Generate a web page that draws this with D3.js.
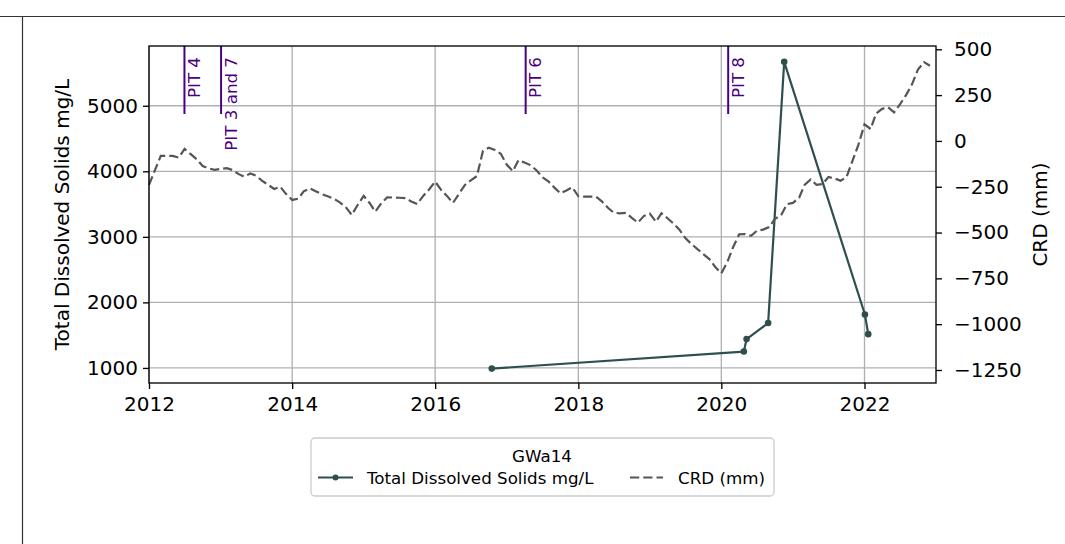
<!DOCTYPE html>
<html>
<head>
<meta charset="utf-8">
<script src="https://cdn.jsdelivr.net/npm/d3@7"></script>
<style>
  html, body { margin: 0; padding: 0; background: #fff; }
  svg { display: block; font-family: "DejaVu Sans", sans-serif; }
</style>
</head>
<body>
<svg id="chart" width="1065" height="544"></svg>
<script>
// ---- data ----
const tdsDates = ["2016-10-16", "2020-04-25", "2020-05-09", "2020-08-27", "2020-11-17", "2022-01-03", "2022-01-20"];
const tdsValues = [990, 1250, 1440, 1685, 5670, 1815, 1515];

const crdStart = "2012-01-01"; // monthly series
const crdValues = [
  -240, -158, -82, -82, -82, -91, -44, -72, -100, -137, -150, -158,
  -152, -149, -158, -180, -195, -178, -190, -218, -240, -262, -250, -290,
  -322, -315, -275, -259, -275, -290, -302, -315, -335, -360, -404, -350,
  -300, -340, -386, -340, -308, -309, -310, -312, -330, -344, -300, -265,
  -222, -268, -300, -338, -290, -240, -215, -192, -55, -37, -50, -70,
  -130, -165, -106, -118, -132, -160, -198, -220, -255, -286, -270, -253,
  -302, -304, -304, -304, -330, -365, -392, -395, -393, -420, -446, -410,
  -396, -441, -395, -422, -450, -484, -530, -562, -590, -618, -645, -688,
  -722, -660, -580, -510, -508, -518, -490, -484, -470, -425, -406, -345,
  -338, -310, -240, -210, -240, -235, -197, -205, -217, -198, -108, -20,
  90, 65, 150, 175, 184, 156, 200, 250, 310, 390, 430, 410
];

const pitDates = ["2012-06-30", "2013-01-03", "2017-04-07", "2020-02-05"];
const pitLabels = ["PIT 4", "PIT 3 and 7", "PIT 6", "PIT 8"];

const xTickYears = [2012, 2014, 2016, 2018, 2020, 2022];
const yLeftTicks = [1000, 2000, 3000, 4000, 5000];
const yRightTicks = [-1250, -1000, -750, -500, -250, 0, 250, 500];

const legendTitle = "GWa14";
const seriesNames = ["Total Dissolved Solids mg/L", "CRD (mm)"];
const yLeftLabel = "Total Dissolved Solids mg/L";
const yRightLabel = "CRD (mm)";

// ---- layout ----
const L = 149, R = 936, T = 46, B = 383;
const tdsColor = "#2f4f4f", crdColor = "#555555", pitColor = "#4b0082";
const tickFont = 20, smallFont = 16.7;

const parse = d3.timeParse("%Y-%m-%d");
const svg = d3.select("#chart");

// outer frame lines
svg.append("line").attr("x1", 0).attr("x2", 1065).attr("y1", 16.5).attr("y2", 16.5)
  .attr("stroke", "#333").attr("stroke-width", 1.2);
svg.append("line").attr("x1", 22.5).attr("x2", 22.5).attr("y1", 16).attr("y2", 544)
  .attr("stroke", "#333").attr("stroke-width", 1.2);

const x = d3.scaleTime().domain([new Date(2012, 0, 1), new Date(2023, 0, 1)]).range([L, R]);
const yL = d3.scaleLinear().domain([770, 5912]).range([B, T]);
const yR = d3.scaleLinear().domain([-1321, 518]).range([B, T]);

const tdsData = tdsDates.map((d, i) => ({ date: parse(d), v: tdsValues[i] }));
const start = parse(crdStart);
const crdData = crdValues.map((v, i) => ({ date: d3.timeMonth.offset(start, i), v }));

const xTickDates = xTickYears.map(y => new Date(y, 0, 1));

// grid
const grid = svg.append("g");
grid.selectAll(".gx").data(xTickDates).join("line")
  .attr("x1", d => x(d)).attr("x2", d => x(d)).attr("y1", T).attr("y2", B)
  .attr("stroke", "#b0b0b0").attr("stroke-width", 1.33);
grid.selectAll(".gy").data(yLeftTicks).join("line")
  .attr("x1", L).attr("x2", R).attr("y1", d => yL(d)).attr("y2", d => yL(d))
  .attr("stroke", "#b0b0b0").attr("stroke-width", 1.33);

// PIT lines
const pitG = svg.append("g");
pitData = pitDates.map((d, i) => ({ date: parse(d), label: pitLabels[i] }));
pitG.selectAll("line").data(pitData).join("line")
  .attr("x1", d => x(d.date)).attr("x2", d => x(d.date)).attr("y1", T).attr("y2", 114)
  .attr("stroke", pitColor).attr("stroke-width", 2);
pitG.selectAll("text").data(pitData).join("text")
  .attr("transform", d => `translate(${x(d.date) + 15.5},57) rotate(-90)`)
  .attr("text-anchor", "end")
  .attr("font-size", smallFont).attr("fill", pitColor)
  .text(d => d.label);

// TDS line
svg.append("path").datum(tdsData)
  .attr("d", d3.line().x(d => x(d.date)).y(d => yL(d.v)))
  .attr("fill", "none").attr("stroke", tdsColor).attr("stroke-width", 2.2)
  .attr("stroke-linejoin", "round");
svg.append("g").selectAll("circle").data(tdsData).join("circle")
  .attr("cx", d => x(d.date)).attr("cy", d => yL(d.v)).attr("r", 3.3)
  .attr("fill", tdsColor);

// CRD line
svg.append("path").datum(crdData)
  .attr("d", d3.line().x(d => x(d.date)).y(d => yR(d.v)))
  .attr("fill", "none").attr("stroke", crdColor).attr("stroke-width", 2.2)
  .attr("stroke-dasharray", "9.25,4");

// axes
const axB = svg.append("g").attr("transform", `translate(0,${B})`)
  .call(d3.axisBottom(x).tickValues(xTickDates).tickFormat(d3.timeFormat("%Y")).tickSize(6).tickPadding(8));
const axL = svg.append("g").attr("transform", `translate(${L},0)`)
  .call(d3.axisLeft(yL).tickValues(yLeftTicks).tickFormat(d3.format("d")).tickSize(6).tickPadding(5));
const axR = svg.append("g").attr("transform", `translate(${R},0)`)
  .call(d3.axisRight(yR).tickValues(yRightTicks).tickFormat(d => d < 0 ? "\u2212" + Math.abs(d) : String(d)).tickSize(6).tickPadding(12));
[axB, axL, axR].forEach(a => {
  a.selectAll(".domain").remove();
  a.selectAll("line").attr("stroke", "#000").attr("stroke-width", 1.33);
  a.selectAll("text").attr("font-size", tickFont).attr("fill", "#000").attr("font-family", "DejaVu Sans");
});
// spines
svg.append("rect").attr("x", L).attr("y", T).attr("width", R - L).attr("height", B - T)
  .attr("fill", "none").attr("stroke", "#000").attr("stroke-width", 1.33);

// axis labels
svg.append("text").attr("transform", `translate(69,${(T + B) / 2}) rotate(-90)`)
  .attr("text-anchor", "middle").attr("font-size", tickFont).text(yLeftLabel);
svg.append("text").attr("transform", `translate(1047,${(T + B) / 2}) rotate(-90)`)
  .attr("text-anchor", "middle").attr("font-size", tickFont).text(yRightLabel);

// legend
const lg = svg.append("g");
lg.append("rect").attr("x", 311).attr("y", 438).attr("width", 463).attr("height", 58).attr("rx", 4)
  .attr("fill", "#fff").attr("stroke", "#cccccc").attr("stroke-width", 1.3);
lg.append("text").attr("x", 542).attr("y", 461.5).attr("text-anchor", "middle")
  .attr("font-size", smallFont).text(legendTitle);
lg.append("line").attr("x1", 318).attr("x2", 353).attr("y1", 477.5).attr("y2", 477.5)
  .attr("stroke", tdsColor).attr("stroke-width", 2.2);
lg.append("circle").attr("cx", 335.5).attr("cy", 477.5).attr("r", 3).attr("fill", tdsColor);
lg.append("text").attr("x", 367).attr("y", 483.5).attr("font-size", smallFont).text(seriesNames[0]);
lg.append("line").attr("x1", 630).attr("x2", 663).attr("y1", 477.5).attr("y2", 477.5)
  .attr("stroke", crdColor).attr("stroke-width", 2.2).attr("stroke-dasharray", "9.25,4");
lg.append("text").attr("x", 678).attr("y", 483.5).attr("font-size", smallFont).text(seriesNames[1]);
</script>
</body>
</html>
